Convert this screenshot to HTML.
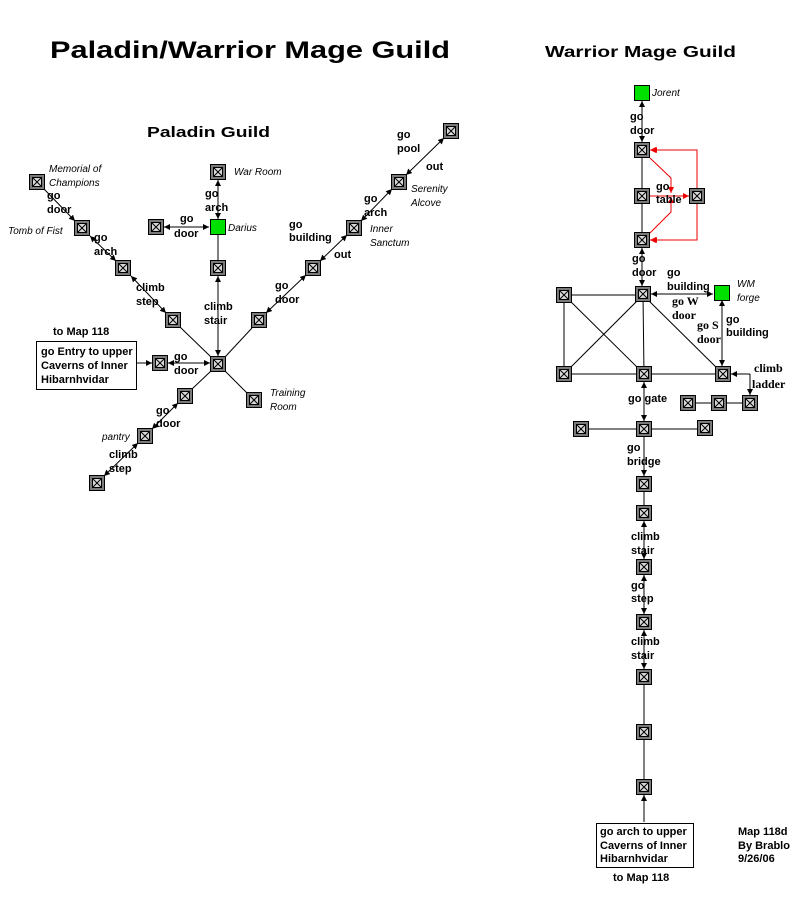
<!DOCTYPE html>
<html><head><meta charset="utf-8"><style>
html,body{margin:0;padding:0;background:#fff}
svg{display:block}
.l{font-family:"Liberation Sans",sans-serif;font-weight:bold;font-size:11px;fill:#000}
.n{font-family:"Liberation Sans",sans-serif;font-style:italic;font-size:10px;fill:#000}
.t{font-family:"Liberation Sans",sans-serif;font-weight:bold;fill:#000}
.s{font-family:"Liberation Serif",serif;font-weight:bold;font-size:12px;fill:#000}
line,polyline{stroke:#000;stroke-width:1;fill:none}
</style></head><body>
<svg width="808" height="897" viewBox="0 0 808 897" xmlns="http://www.w3.org/2000/svg">
<defs>
<symbol id="nd" viewBox="0 0 16 16" width="16" height="16">
<rect x="0.5" y="0.5" width="15" height="15" fill="#7a7a7a" stroke="#000"/>
<rect x="3.5" y="3.5" width="9" height="9" fill="#d8d8d8" stroke="#000"/>
<line x1="4" y1="4" x2="12" y2="12"/><line x1="12" y1="4" x2="4" y2="12"/>
</symbol>
<marker id="a" viewBox="0 0 6 6" refX="6" refY="3" markerWidth="6" markerHeight="6" orient="auto-start-reverse" markerUnits="userSpaceOnUse"><path d="M0,0L6,3L0,6z" fill="#000"/></marker>
<marker id="r" viewBox="0 0 6 6" refX="6" refY="3" markerWidth="6" markerHeight="6" orient="auto-start-reverse" markerUnits="userSpaceOnUse"><path d="M0,0L6,3L0,6z" fill="#e00"/></marker>
</defs>

<text class="t" x="50" y="58" font-size="24" textLength="400" lengthAdjust="spacingAndGlyphs">Paladin/Warrior Mage Guild</text>
<text class="t" x="545" y="57" font-size="16" textLength="191" lengthAdjust="spacingAndGlyphs">Warrior Mage Guild</text>
<text class="t" x="147" y="137" font-size="15" textLength="123" lengthAdjust="spacingAndGlyphs">Paladin Guild</text>

<!-- LEFT connectors -->
<line x1="44" y1="189" x2="75" y2="221" marker-end="url(#a)"/>
<line x1="90" y1="236" x2="116" y2="261" marker-start="url(#a)" marker-end="url(#a)"/>
<line x1="131" y1="276" x2="166" y2="313" marker-start="url(#a)" marker-end="url(#a)"/>
<line x1="180" y1="327" x2="211" y2="357"/>
<line x1="164" y1="227" x2="209" y2="227" marker-start="url(#a)" marker-end="url(#a)"/>
<line x1="218" y1="180" x2="218" y2="219" marker-start="url(#a)" marker-end="url(#a)"/>
<line x1="218" y1="235" x2="218" y2="261"/>
<line x1="218" y1="276" x2="218" y2="356" marker-start="url(#a)" marker-end="url(#a)"/>
<line x1="168" y1="363" x2="210" y2="363" marker-start="url(#a)" marker-end="url(#a)"/>
<line x1="137" y1="363" x2="152" y2="363" marker-end="url(#a)"/>
<line x1="225" y1="357" x2="252" y2="328"/>
<line x1="266" y1="313" x2="306" y2="275" marker-start="url(#a)" marker-end="url(#a)"/>
<line x1="320" y1="261" x2="347" y2="235" marker-start="url(#a)" marker-end="url(#a)"/>
<line x1="361" y1="221" x2="392" y2="189" marker-start="url(#a)" marker-end="url(#a)"/>
<line x1="406" y1="175" x2="444" y2="138" marker-start="url(#a)" marker-end="url(#a)"/>
<line x1="225" y1="371" x2="247" y2="393"/>
<line x1="211" y1="371" x2="192" y2="389"/>
<line x1="178" y1="403" x2="152" y2="429" marker-start="url(#a)" marker-end="url(#a)"/>
<line x1="138" y1="443" x2="104" y2="476" marker-start="url(#a)" marker-end="url(#a)"/>

<rect x="36.5" y="341.5" width="100" height="48" fill="#fff" stroke="#000"/>
<text class="l" x="41" y="355">go Entry to upper</text>
<text class="l" x="41" y="369">Caverns of Inner</text>
<text class="l" x="41" y="383">Hibarnhvidar</text>
<text class="l" x="53" y="335">to Map 118</text>

<g>
<use href="#nd" x="29" y="174"/><use href="#nd" x="74" y="220"/><use href="#nd" x="115" y="260"/>
<use href="#nd" x="165" y="312"/><use href="#nd" x="210" y="356"/><use href="#nd" x="152" y="355"/>
<use href="#nd" x="177" y="388"/><use href="#nd" x="137" y="428"/><use href="#nd" x="89" y="475"/>
<use href="#nd" x="246" y="392"/><use href="#nd" x="210" y="164"/><use href="#nd" x="148" y="219"/>
<use href="#nd" x="210" y="260"/><use href="#nd" x="251" y="312"/><use href="#nd" x="305" y="260"/>
<use href="#nd" x="346" y="220"/><use href="#nd" x="391" y="174"/><use href="#nd" x="443" y="123"/>
<rect x="210.5" y="219.5" width="15" height="15" fill="#00e000" stroke="#000"/>
</g>

<text class="n" x="49" y="172">Memorial of</text><text class="n" x="49" y="186">Champions</text>
<text class="l" x="47" y="199">go</text><text class="l" x="47" y="213">door</text>
<text class="n" x="8" y="234">Tomb of Fist</text>
<text class="l" x="94" y="241">go</text><text class="l" x="94" y="255">arch</text>
<text class="l" x="136" y="291">climb</text><text class="l" x="136" y="305">step</text>
<text class="n" x="234" y="175">War Room</text>
<text class="l" x="205" y="197">go</text><text class="l" x="205" y="211">arch</text>
<text class="l" x="180" y="222">go</text><text class="l" x="174" y="237">door</text>
<text class="n" x="228" y="231">Darius</text>
<text class="l" x="204" y="310">climb</text><text class="l" x="204" y="324">stair</text>
<text class="l" x="174" y="360">go</text><text class="l" x="174" y="374">door</text>
<text class="n" x="270" y="396">Training</text><text class="n" x="270" y="410">Room</text>
<text class="l" x="156" y="414">go</text><text class="l" x="156" y="427">door</text>
<text class="n" x="102" y="440">pantry</text>
<text class="l" x="109" y="458">climb</text><text class="l" x="109" y="472">step</text>
<text class="l" x="275" y="289">go</text><text class="l" x="275" y="303">door</text>
<text class="l" x="289" y="228">go</text><text class="l" x="289" y="241">building</text>
<text class="l" x="334" y="258">out</text>
<text class="n" x="370" y="232">Inner</text><text class="n" x="370" y="246">Sanctum</text>
<text class="l" x="364" y="202">go</text><text class="l" x="364" y="216">arch</text>
<text class="n" x="411" y="192">Serenity</text><text class="n" x="411" y="206">Alcove</text>
<text class="l" x="397" y="138">go</text><text class="l" x="397" y="152">pool</text>
<text class="l" x="426" y="170">out</text>

<!-- RIGHT -->
<line x1="642" y1="101" x2="642" y2="142" marker-start="url(#a)" marker-end="url(#a)"/>
<line x1="642" y1="158" x2="642" y2="232"/>
<polyline points="650,150 697,150 697,240 650,240" stroke="#e00" marker-start="url(#r)" marker-end="url(#r)" style="stroke:#e00"/>
<polyline points="697,188 697,150 651,150" style="stroke:#e00" marker-end="url(#r)"/>
<polyline points="697,204 697,240 651,240" style="stroke:#e00" marker-end="url(#r)"/>
<polyline points="650,158 671,178 671,193" style="stroke:#e00" marker-end="url(#r)"/>
<polyline points="650,233 671,212 671,197" style="stroke:#e00" marker-end="url(#r)"/>
<line x1="650" y1="196" x2="689" y2="196" style="stroke:#e00" marker-end="url(#r)"/>
<line x1="642" y1="248" x2="642" y2="286" marker-start="url(#a)" marker-end="url(#a)"/>
<line x1="651" y1="294" x2="713" y2="294" marker-start="url(#a)" marker-end="url(#a)"/>
<line x1="722" y1="300" x2="722" y2="366" marker-start="url(#a)" marker-end="url(#a)"/>
<line x1="564" y1="295" x2="643" y2="295"/>
<line x1="564" y1="295" x2="564" y2="374"/>
<line x1="564" y1="295" x2="644" y2="374"/>
<line x1="643" y1="295" x2="564" y2="374"/>
<line x1="643" y1="295" x2="644" y2="374"/>
<line x1="643" y1="295" x2="723" y2="374"/>
<line x1="564" y1="374" x2="723" y2="374"/>
<line x1="750" y1="374" x2="731" y2="374" marker-end="url(#a)"/>
<line x1="750" y1="374" x2="750" y2="395" marker-end="url(#a)"/>
<line x1="688" y1="403" x2="750" y2="403"/>
<line x1="644" y1="382" x2="644" y2="421" marker-start="url(#a)" marker-end="url(#a)"/>
<line x1="581" y1="429" x2="705" y2="429"/>
<line x1="644" y1="437" x2="644" y2="476" marker-end="url(#a)"/>
<line x1="644" y1="484" x2="644" y2="513"/>
<line x1="644" y1="521" x2="644" y2="559" marker-start="url(#a)" marker-end="url(#a)"/>
<line x1="644" y1="575" x2="644" y2="614" marker-start="url(#a)" marker-end="url(#a)"/>
<line x1="644" y1="630" x2="644" y2="669" marker-start="url(#a)" marker-end="url(#a)"/>
<line x1="644" y1="685" x2="644" y2="787"/>
<line x1="644" y1="822" x2="644" y2="795" marker-end="url(#a)"/>

<g>
<use href="#nd" x="634" y="142"/><use href="#nd" x="634" y="188"/><use href="#nd" x="689" y="188"/>
<use href="#nd" x="634" y="232"/><use href="#nd" x="635" y="286"/><use href="#nd" x="556" y="287"/>
<use href="#nd" x="556" y="366"/><use href="#nd" x="636" y="366"/><use href="#nd" x="715" y="366"/>
<use href="#nd" x="680" y="395"/><use href="#nd" x="711" y="395"/><use href="#nd" x="742" y="395"/>
<use href="#nd" x="573" y="421"/><use href="#nd" x="636" y="421"/><use href="#nd" x="697" y="420"/>
<use href="#nd" x="636" y="476"/><use href="#nd" x="636" y="505"/><use href="#nd" x="636" y="559"/>
<use href="#nd" x="636" y="614"/><use href="#nd" x="636" y="669"/><use href="#nd" x="636" y="724"/>
<use href="#nd" x="636" y="779"/>
<rect x="634.5" y="85.5" width="15" height="15" fill="#00e000" stroke="#000"/>
<rect x="714.5" y="285.5" width="15" height="15" fill="#00e000" stroke="#000"/>
</g>

<text class="n" x="652" y="96">Jorent</text>
<text class="l" x="630" y="120">go</text><text class="l" x="630" y="134">door</text>
<text class="l" x="656" y="190">go</text><text class="l" x="656" y="203">table</text>
<text class="l" x="632" y="262">go</text><text class="l" x="632" y="276">door</text>
<text class="l" x="667" y="276">go</text><text class="l" x="667" y="290">building</text>
<text class="n" x="737" y="287">WM</text><text class="n" x="737" y="301">forge</text>
<text class="s" x="672" y="305">go W</text><text class="s" x="672" y="319">door</text>
<text class="s" x="697" y="329">go S</text><text class="s" x="697" y="343">door</text>
<text class="l" x="726" y="323">go</text><text class="l" x="726" y="336">building</text>
<text class="s" x="754" y="372">climb</text><text class="s" x="752" y="388">ladder</text>
<text class="l" x="628" y="402">go gate</text>
<text class="l" x="627" y="451">go</text><text class="l" x="627" y="465">bridge</text>
<text class="l" x="631" y="540">climb</text><text class="l" x="631" y="554">stair</text>
<text class="l" x="631" y="589">go</text><text class="l" x="631" y="602">step</text>
<text class="l" x="631" y="645">climb</text><text class="l" x="631" y="659">stair</text>

<rect x="596.5" y="823.5" width="97" height="44" fill="#fff" stroke="#000"/>
<text class="l" x="600" y="835">go arch to upper</text>
<text class="l" x="600" y="849">Caverns of Inner</text>
<text class="l" x="600" y="862">Hibarnhvidar</text>
<text class="l" x="613" y="881">to Map 118</text>
<text class="l" x="738" y="835">Map 118d</text>
<text class="l" x="738" y="849">By Brablo</text>
<text class="l" x="738" y="862">9/26/06</text>
</svg>
</body></html>
